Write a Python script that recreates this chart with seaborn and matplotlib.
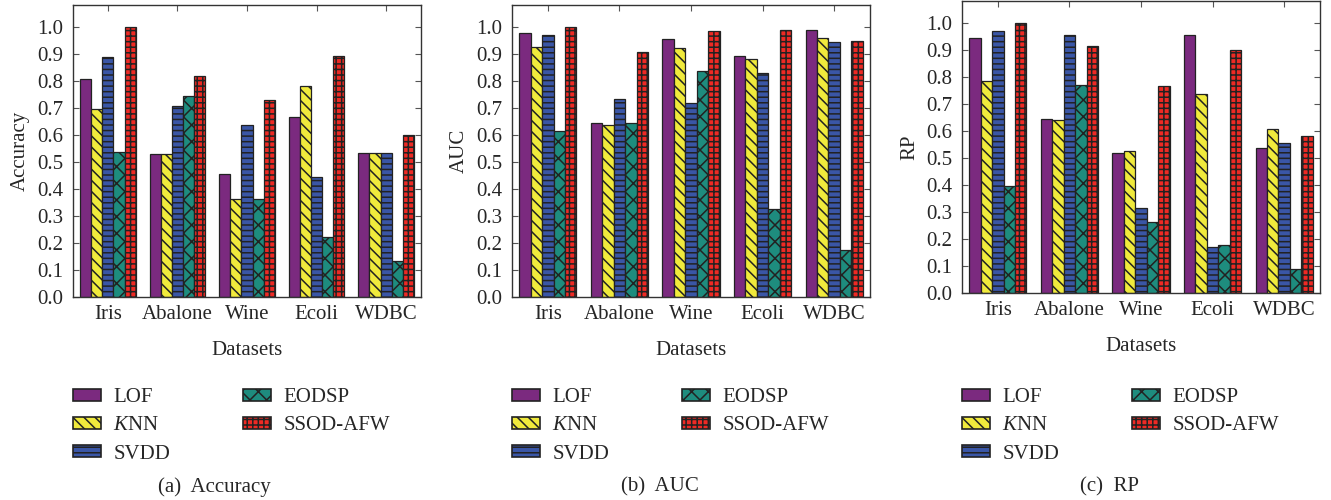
import pandas as pd
import seaborn as sns
import matplotlib.pyplot as plt
import matplotlib.patches as mpatches

# Data
datasets = ['Iris', 'Abalone', 'Wine', 'Ecoli', 'WDBC']
methods = ['LOF', 'KNN', 'SVDD', 'EODSP', 'SSOD-AFW']
legend_labels = ['LOF', '$K$NN', 'SVDD', 'EODSP', 'SSOD-AFW']

# one row per method, one value per dataset
accuracy = [
    [0.808, 0.528, 0.456, 0.667, 0.534],
    [0.695, 0.528, 0.363, 0.780, 0.534],
    [0.886, 0.708, 0.638, 0.445, 0.532],
    [0.538, 0.745, 0.363, 0.222, 0.133],
    [1.000, 0.818, 0.729, 0.890, 0.601],
]
auc = [
    [0.975, 0.642, 0.953, 0.891, 0.989],
    [0.926, 0.638, 0.922, 0.879, 0.957],
    [0.969, 0.733, 0.717, 0.829, 0.942],
    [0.613, 0.645, 0.837, 0.324, 0.173],
    [1.000, 0.905, 0.983, 0.989, 0.947],
]
rp = [
    [0.944, 0.642, 0.518, 0.955, 0.538],
    [0.785, 0.639, 0.525, 0.737, 0.607],
    [0.970, 0.953, 0.314, 0.171, 0.555],
    [0.396, 0.769, 0.263, 0.177, 0.089],
    [1.000, 0.915, 0.766, 0.900, 0.582],
]

colors = ['#7B2A7F', '#F0EA3C', '#3A56A6', '#1E8C7E', '#EE2A24']
hatches = ['', '\\\\\\', '---', 'xx', '+++']
edge = '#222222'
fs = 15

sns.set_style('ticks')
plt.rcParams['font.family'] = ['Liberation Serif', 'DejaVu Serif']
plt.rcParams['mathtext.fontset'] = 'custom'
plt.rcParams['mathtext.rm'] = 'Liberation Serif'
plt.rcParams['mathtext.it'] = 'Liberation Serif:italic'
plt.rcParams['hatch.linewidth'] = 1.1
plt.rcParams['axes.edgecolor'] = '#333333'

fig = plt.figure(figsize=(13.31, 5.0), dpi=100)

# data, y label, caption, axes box in pixels (left, bottom, width), caption centre
panels = [
    (accuracy, 'Accuracy', '(a)  Accuracy', (73, 297, 348), 214),
    (auc, 'AUC', '(b)  AUC', (512, 297, 358), 660),
    (rp, 'RP', '(c)  RP', (962, 293, 358), 1110),
]

W, H = 1331, 500
for values, ylabel, caption, (left, bottom, width), cap_x in panels:
    ax = fig.add_axes([left / W, 1 - bottom / H, width / W, 292 / H])

    rows = []
    for m, vals in zip(methods, values):
        for d, v in zip(datasets, vals):
            rows.append({'dataset': d, 'method': m, 'value': v})
    df = pd.DataFrame(rows)

    sns.barplot(data=df, x='dataset', y='value', hue='method',
                order=datasets, hue_order=methods, palette=colors,
                saturation=1, width=0.8, edgecolor=edge, linewidth=0.9,
                legend=False, ax=ax)
    for cont, h in zip(ax.containers, hatches):
        for bar in cont:
            bar.set_hatch(h)

    ax.set_xlim(-0.5, 4.5)
    ax.set_ylim(0, 1.08)
    ax.set_yticks([i / 10 for i in range(11)])
    ax.set_yticklabels(['%.1f' % (i / 10) for i in range(11)])
    ax.tick_params(direction='in', top=True, right=True, labelsize=fs,
                   length=4, width=0.8, color='#555555')
    ax.tick_params(axis='y', pad=7)
    ax.tick_params(axis='x', pad=6)
    ax.set_xlabel('Datasets', fontsize=fs, labelpad=12)
    ax.set_ylabel(ylabel, fontsize=fs, labelpad=5)
    for s in ax.spines.values():
        s.set_linewidth(1.0)

    handles = [mpatches.Patch(facecolor=c, edgecolor=edge, hatch=h, linewidth=1.2)
               for c, h in zip(colors, hatches)]
    ax.legend(handles, legend_labels, loc='upper left',
              bbox_to_anchor=(left / W, 1 - 388 / H), bbox_transform=fig.transFigure,
              ncol=2, frameon=False, fontsize=fs, borderpad=0, borderaxespad=0,
              handlelength=1.35, handleheight=0.5, handletextpad=0.58,
              columnspacing=3.5, labelspacing=0.45)

    fig.text(cap_x / W, 1 - 487 / H, caption, ha='center', va='center', fontsize=fs)

fig.savefig('out.png', dpi=100)
